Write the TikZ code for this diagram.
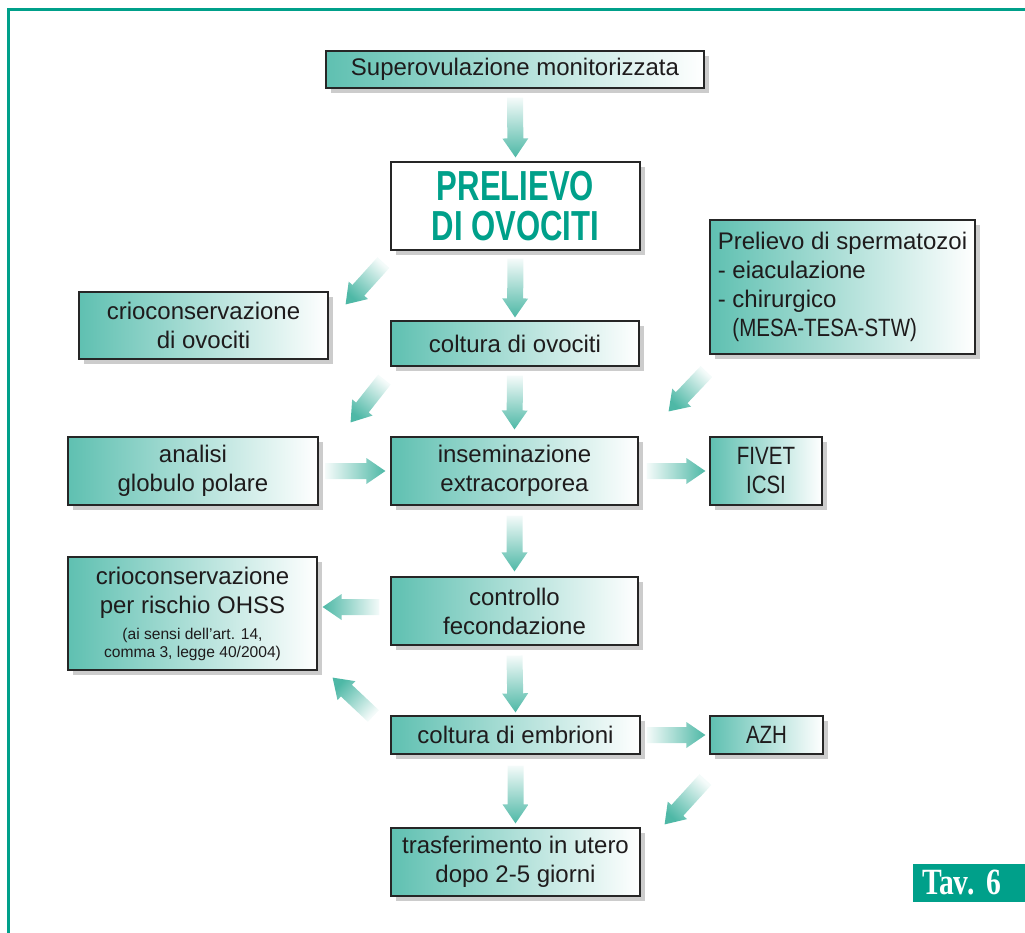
\documentclass[tikz,border=0pt]{standalone}
\usepackage{fontspec}
\setmainfont{Liberation Sans}
\newfontfamily\condsans[FakeStretch=0.74]{Liberation Sans}
\newfontfamily\capsans[FakeStretch=0.82]{Liberation Sans}
\newfontfamily\condserif[FakeStretch=0.8]{Liberation Serif}
\usetikzlibrary{calc,shadows}

\definecolor{boxteal}{RGB}{95,192,177}
\definecolor{arrteal}{RGB}{78,184,166}
\definecolor{frameteal}{RGB}{0,160,138}
\definecolor{txt}{RGB}{30,27,28}

% thick shaded arrow from #1 to #2
\newcommand{\fatarrow}[2]{%
  \coordinate (fa) at (#1);
  \coordinate (fb) at (#2);
  \coordinate (fc) at ($(fb)!9.5pt!(fa)$);
  \path let \p1=($(fb)-(fa)$) in
    \pgfextra{\pgfmathsetmacro{\tmpang}{atan2(\y1,\x1)-90}\xdef\arrang{\tmpang}};
  \shade[top color=arrteal, bottom color=arrteal!6, shading angle=\arrang]
    ($(fa)!4pt!90:(fb)$) -- ($(fc)!4pt!90:(fb)$) -- ($(fc)!6.5pt!90:(fb)$) -- (fb)
    -- ($(fc)!6.5pt!-90:(fb)$) -- ($(fc)!4pt!-90:(fb)$) -- ($(fa)!4pt!-90:(fb)$) -- cycle;
}

\begin{document}
\begin{tikzpicture}[x=0.5pt, y=-0.5pt,
    cell/.style={draw=black!85, line width=0.6pt, inner sep=2pt, text=txt, align=center,
      font=\fontsize{12}{14.5}\selectfont,
      drop shadow={shadow xshift=2.5pt, shadow yshift=-2.5pt, fill=black!20, opacity=1}},
    box/.style={cell, left color=boxteal, right color=white},
    titlebox/.style={cell, fill=white, text=frameteal,
      font=\condsans\bfseries\fontsize{21}{20}\selectfont}]
  \useasboundingbox (0,0) rectangle (1025,933);
  \draw[frameteal, line width=1.5pt] (8,933) -- (8,9) -- (1025,9);

  \node[box, minimum width=189pt, minimum height=18.5pt] (sup) at (515,69.5) {Superovulazione monitorizzata};
  \node[titlebox, minimum width=124.5pt, minimum height=44pt] (prel) at (515.5,206) {PRELIEVO\\DI OVOCITI};
  \node[box, minimum width=124.5pt, minimum height=33.5pt] (crio1) at (203.5,325.5) {crioconservazione\\di ovociti};
  \node[box, minimum width=124pt, minimum height=22.5pt] (colov) at (515,343.5) {coltura di ovociti};
  \node[box, align=left, minimum width=132.5pt, minimum height=67pt] (sperm) at (842.5,287)
    {Prelievo di spermatozoi\\- eiaculazione\\- chirurgico\\\phantom{- }{\capsans\fontsize{12.5}{14.5}\selectfont(MESA-TESA-STW)}};
  \node[box, minimum width=125pt, minimum height=34pt] (anal) at (193,471) {analisi\\globulo polare};
  \node[box, minimum width=123.5pt, minimum height=34pt] (insem) at (514.5,471) {inseminazione\\extracorporea};
  \node[box, minimum width=56pt, minimum height=34pt, font=\capsans\fontsize{12.5}{14.5}\selectfont] (fivet) at (766,471) {FIVET\\ICSI};
  \node[box, minimum width=124.5pt, minimum height=56.5pt] (crio2) at (192.5,613.5)
    {crioconservazione\\per rischio OHSS\\[-1.5pt]{\fontsize{7.8}{9}\selectfont (ai sensi dell'art. 14,}\\[-5.5pt]{\fontsize{7.8}{9}\selectfont comma 3, legge 40/2004)}};
  \node[box, minimum width=123.5pt, minimum height=34pt] (contr) at (514.5,611) {controllo\\fecondazione};
  \node[box, minimum width=124.5pt, minimum height=19pt] (colem) at (515.5,735) {coltura di embrioni};
  \node[box, minimum width=56.5pt, minimum height=19pt, font=\capsans\fontsize{12.5}{14.5}\selectfont] (azh) at (766.5,735) {AZH};
  \node[box, minimum width=124.5pt, minimum height=34pt] (trasf) at (515.5,862) {trasferimento in utero\\dopo 2-5 giorni};
  \node[fill=frameteal, minimum width=56pt, minimum height=19pt, inner sep=0pt, text=white,
    align=left, text width=47pt,
    font=\condserif\bfseries\fontsize{18.5}{18}\selectfont] (tav) at (969,883) {Tav.\ 6};

  \fatarrow{$(sup.south)+(0,9)$}{$(prel.north)+(0,-4)$}
  \fatarrow{$(prel.south)+(0,8)$}{$(colov.north)+(0,-3)$}
  \fatarrow{$(prel.south west)+(-7,12)$}{$(crio1.north east)+(17,13)$}
  \fatarrow{$(colov.south)+(0,9)$}{$(insem.north)+(0,-7)$}
  \fatarrow{$(colov.south west)+(-6,13)$}{$(anal.north east)+(32,-14)$}
  \fatarrow{$(sperm.south west)+(-3,17)$}{$(insem.north east)+(30,-25)$}
  \fatarrow{$(anal.east)+(7,0)$}{$(insem.west)+(-5,0)$}
  \fatarrow{$(insem.east)+(8,0)$}{$(fivet.west)+(-4,0)$}
  \fatarrow{$(insem.south)+(0,10)$}{$(contr.north)+(0,-5)$}
  \fatarrow{$(contr.west)+(-11,-4)$}{$(crio2.east)+(5,-6.5)$}
  \fatarrow{$(contr.south)+(0,10)$}{$(colem.north)+(0,-3)$}
  \fatarrow{$(colem.west)+(-17,-19)$}{$(crio2.south east)+(15,7)$}
  \fatarrow{$(colem.east)+(6,0)$}{$(azh.west)+(-4,0)$}
  \fatarrow{$(colem.south)+(0,11)$}{$(trasf.north)+(0,-4)$}
  \fatarrow{$(azh.south west)+(-4,25)$}{$(trasf.north east)+(24,-3)$}
\end{tikzpicture}
\end{document}
